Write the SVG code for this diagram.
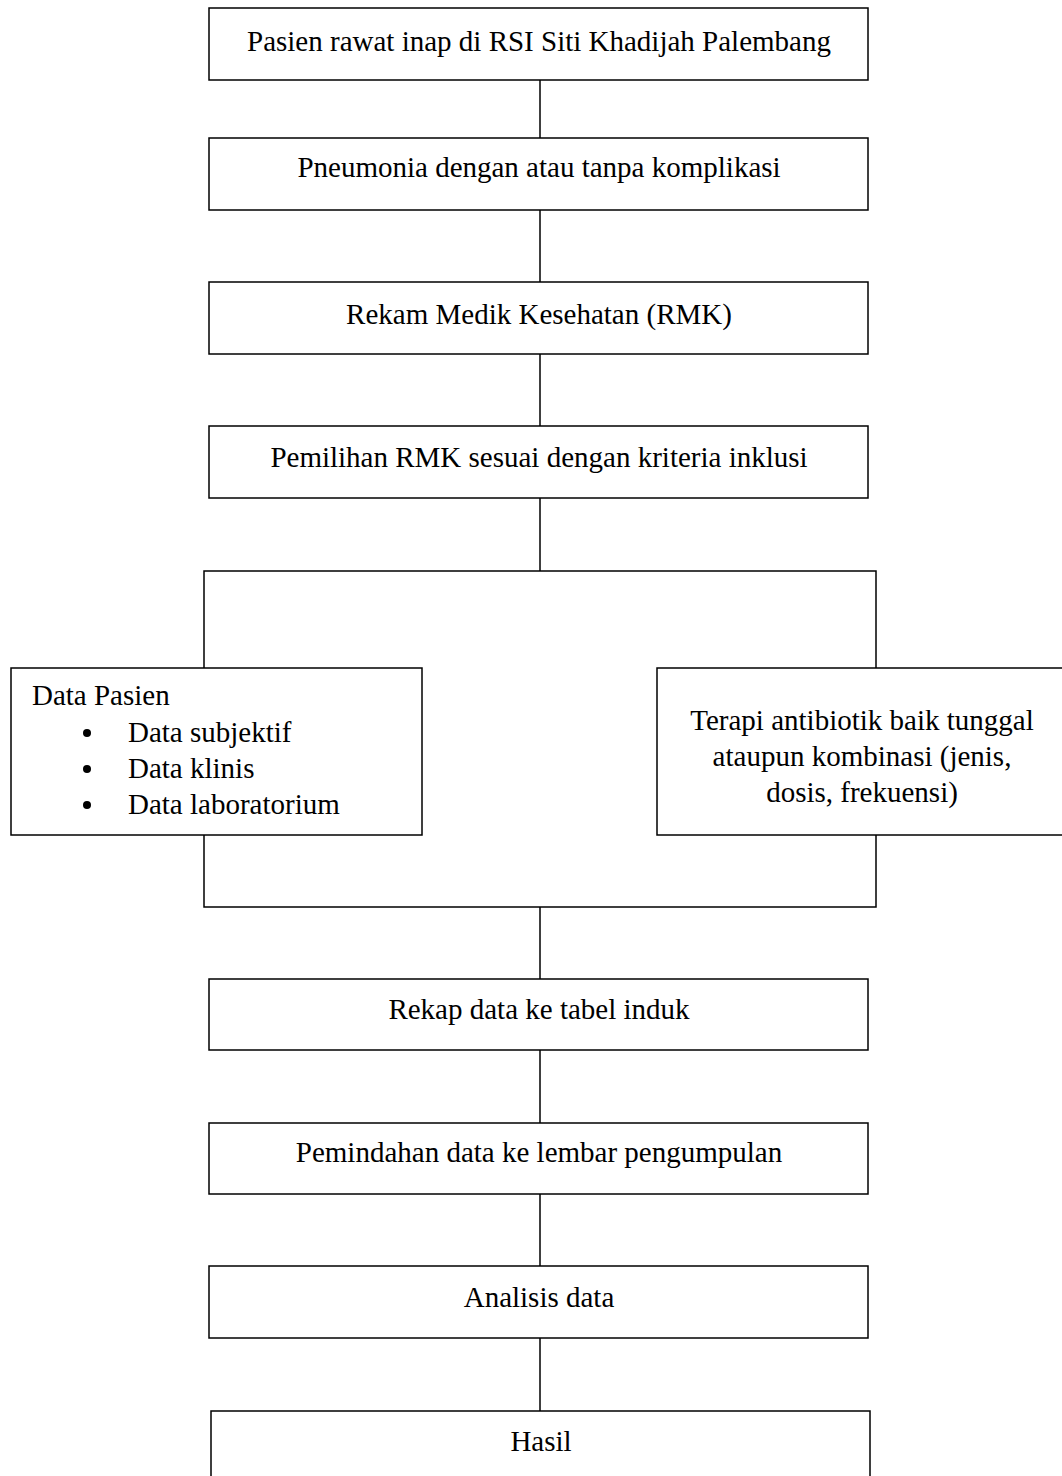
<svg xmlns="http://www.w3.org/2000/svg" width="1062" height="1476" viewBox="0 0 1062 1476">
<style>
.box{fill:#fff;stroke:#000;stroke-width:1.5}
.t{font-family:"Liberation Serif","Times New Roman",serif;font-size:29px;fill:#000}
.c{text-anchor:middle}
.ln{stroke:#000;stroke-width:1.5;fill:none}
</style>
<rect width="1062" height="1476" fill="#fff"/>
<g id="connectors">
<line class="ln" x1="540" y1="80" x2="540" y2="138"/>
<line class="ln" x1="540" y1="210" x2="540" y2="282"/>
<line class="ln" x1="540" y1="354" x2="540" y2="426"/>
<line class="ln" x1="540" y1="498" x2="540" y2="571"/>
<polyline class="ln" points="204,668 204,571 876,571 876,668"/>
<polyline class="ln" points="204,835 204,907 876,907 876,835"/>
<line class="ln" x1="540" y1="907" x2="540" y2="979"/>
<line class="ln" x1="540" y1="1050" x2="540" y2="1123"/>
<line class="ln" x1="540" y1="1194" x2="540" y2="1266"/>
<line class="ln" x1="540" y1="1338" x2="540" y2="1411"/>
</g>
<g id="n1"><rect class="box" x="209" y="8" width="659" height="72"/><text class="t c" x="539" y="51">Pasien rawat inap di RSI Siti Khadijah Palembang</text></g>
<g id="n2"><rect class="box" x="209" y="138" width="659" height="72"/><text class="t c" x="539" y="177">Pneumonia dengan atau tanpa komplikasi</text></g>
<g id="n3"><rect class="box" x="209" y="282" width="659" height="72"/><text class="t c" x="539" y="324">Rekam Medik Kesehatan (RMK)</text></g>
<g id="n4"><rect class="box" x="209" y="426" width="659" height="72"/><text class="t c" x="539" y="467">Pemilihan RMK sesuai dengan kriteria inklusi</text></g>
<g id="n5"><rect class="box" x="11" y="668" width="411" height="167"/>
<text class="t" x="32" y="705">Data Pasien</text>
<circle cx="87" cy="733" r="4"/><text class="t" x="128" y="742">Data subjektif</text>
<circle cx="87" cy="769" r="4"/><text class="t" x="128" y="778">Data klinis</text>
<circle cx="87" cy="805" r="4"/><text class="t" x="128" y="814">Data laboratorium</text>
</g>
<g id="n6"><rect class="box" x="657" y="668" width="410" height="167"/>
<text class="t c" x="862" y="730">Terapi antibiotik baik tunggal</text>
<text class="t c" x="862" y="766">ataupun kombinasi (jenis,</text>
<text class="t c" x="862" y="802">dosis, frekuensi)</text>
</g>
<g id="n7"><rect class="box" x="209" y="979" width="659" height="71"/><text class="t c" x="539" y="1019">Rekap data ke tabel induk</text></g>
<g id="n8"><rect class="box" x="209" y="1123" width="659" height="71"/><text class="t c" x="539" y="1162">Pemindahan data ke lembar pengumpulan</text></g>
<g id="n9"><rect class="box" x="209" y="1266" width="659" height="72"/><text class="t c" x="539" y="1307">Analisis data</text></g>
<g id="n10"><rect class="box" x="211" y="1411" width="659" height="80"/><text class="t c" x="541" y="1451">Hasil</text></g>
</svg>
